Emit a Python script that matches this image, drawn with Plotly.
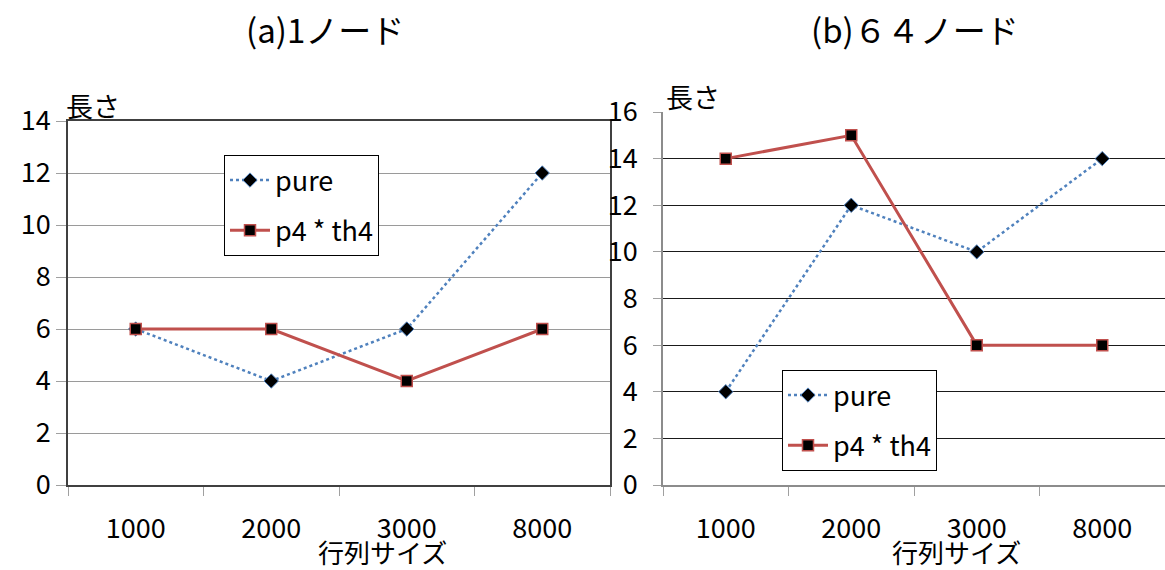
import plotly.graph_objects as go

categories = ["1000", "2000", "3000", "8000"]
pure_1node = [6, 4, 6, 12]
p4th4_1node = [6, 6, 4, 6]
pure_64node = [4, 12, 10, 14]
p4th4_64node = [14, 15, 6, 6]
titles = ["(a)1ノード", "(b)６４ノード"]
y_title = "長さ"
x_title = "行列サイズ"
names = ["pure", "p4 * th4"]

W, H = 1165, 570
FONT = "Noto Sans CJK JP"
BLUE = "#4f81bd"
RED = "#c0504d"

def px_x(p):
    return p / W

def px_y(p):
    return 1 - p / H

fig = go.Figure()

def add_traces(xa, ya, pure, p4, legend):
    fig.add_trace(go.Scatter(
        x=categories, y=pure, name=names[0], xaxis=xa, yaxis=ya,
        mode="lines+markers", legend=legend, legendgroup=legend + "a",
        line=dict(color=BLUE, width=2.5, dash="dot"),
        marker=dict(symbol="diamond", size=11, color="black",
                    line=dict(color=BLUE, width=1)),
    ))
    fig.add_trace(go.Scatter(
        x=categories, y=p4, name=names[1], xaxis=xa, yaxis=ya,
        mode="lines+markers", legend=legend, legendgroup=legend + "b",
        line=dict(color=RED, width=3),
        marker=dict(symbol="square", size=11, color="black",
                    line=dict(color=RED, width=1.5)),
    ))

add_traces("x", "y", pure_1node, p4th4_1node, "legend")
add_traces("x2", "y2", pure_64node, p4th4_64node, "legend2")

tickfont = dict(family=FONT, size=27, color="black")
legfont = dict(family=FONT, size=27, color="black")

fig.update_layout(
    width=W, height=H,
    margin=dict(l=0, r=0, t=0, b=0, autoexpand=False),
    paper_bgcolor="white", plot_bgcolor="white",
    font=dict(family=FONT, color="black"),
    xaxis=dict(domain=[px_x(68), px_x(610)], type="category", range=[-0.5, 3.5],
               showline=True, linecolor="#404040", linewidth=1.5, mirror=True,
               ticks="outside", tickson="boundaries", ticklen=9, tickcolor="#a0a0a0",
               ticklabelstandoff=19, tickfont=tickfont, showgrid=False,
               automargin=False, anchor="y"),
    yaxis=dict(domain=[px_y(485), px_y(121)], range=[0, 14], dtick=2,
               showline=True, linecolor="#404040", linewidth=1.5, mirror=True,
               ticks="outside", ticklen=10, tickcolor="#a0a0a0",
               tickfont=tickfont, showgrid=True, gridcolor="#9a9a9a", gridwidth=1,
               zeroline=False, automargin=False, anchor="x"),
    xaxis2=dict(domain=[px_x(663), 1.0], type="category", range=[-0.5, 3.5],
                showline=True, linecolor="#8c8c8c", linewidth=1.5,
                ticks="outside", tickson="boundaries", ticklen=9, tickcolor="#a0a0a0",
                ticklabelstandoff=19, tickfont=tickfont, showgrid=False,
                automargin=False, anchor="y2"),
    yaxis2=dict(domain=[px_y(485), px_y(112)], range=[0, 16], dtick=2,
                showline=True, linecolor="#8c8c8c", linewidth=1.5,
                ticks="outside", ticklen=8, tickcolor="#a0a0a0",
                ticklabelstandoff=10,
                tickfont=tickfont, showgrid=True, gridcolor="#1a1a1a", gridwidth=1,
                zeroline=False, automargin=False, anchor="x2"),
    legend=dict(x=px_x(224), y=px_y(155), xanchor="left", yanchor="top",
                bgcolor="white", bordercolor="black", borderwidth=1,
                font=legfont, tracegroupgap=12, itemwidth=40),
    legend2=dict(x=px_x(782), y=px_y(370), xanchor="left", yanchor="top",
                 bgcolor="white", bordercolor="black", borderwidth=1,
                 font=legfont, tracegroupgap=12, itemwidth=40),
)

ann = []
for t, cx in zip(titles, [325, 915]):
    ann.append(dict(text=t, x=px_x(cx), y=px_y(29), xref="paper", yref="paper",
                    showarrow=False, xanchor="center", yanchor="middle",
                    font=dict(family=FONT, size=33, color="black")))
for cx, cy in [(64, 105), (664, 97)]:
    ann.append(dict(text=y_title, x=px_x(cx), y=px_y(cy), xref="paper", yref="paper",
                    showarrow=False, xanchor="left", yanchor="middle",
                    font=dict(family=FONT, size=27, color="black")))
for cx in [382, 956]:
    ann.append(dict(text=x_title, x=px_x(cx), y=px_y(551), xref="paper", yref="paper",
                    showarrow=False, xanchor="center", yanchor="middle",
                    font=dict(family=FONT, size=26, color="black")))
fig.update_layout(annotations=ann)

fig.write_html(
    "out.html",
    config={"displayModeBar": False},
    post_script="document.body.style.margin='0';document.body.style.overflow='hidden';",
)
